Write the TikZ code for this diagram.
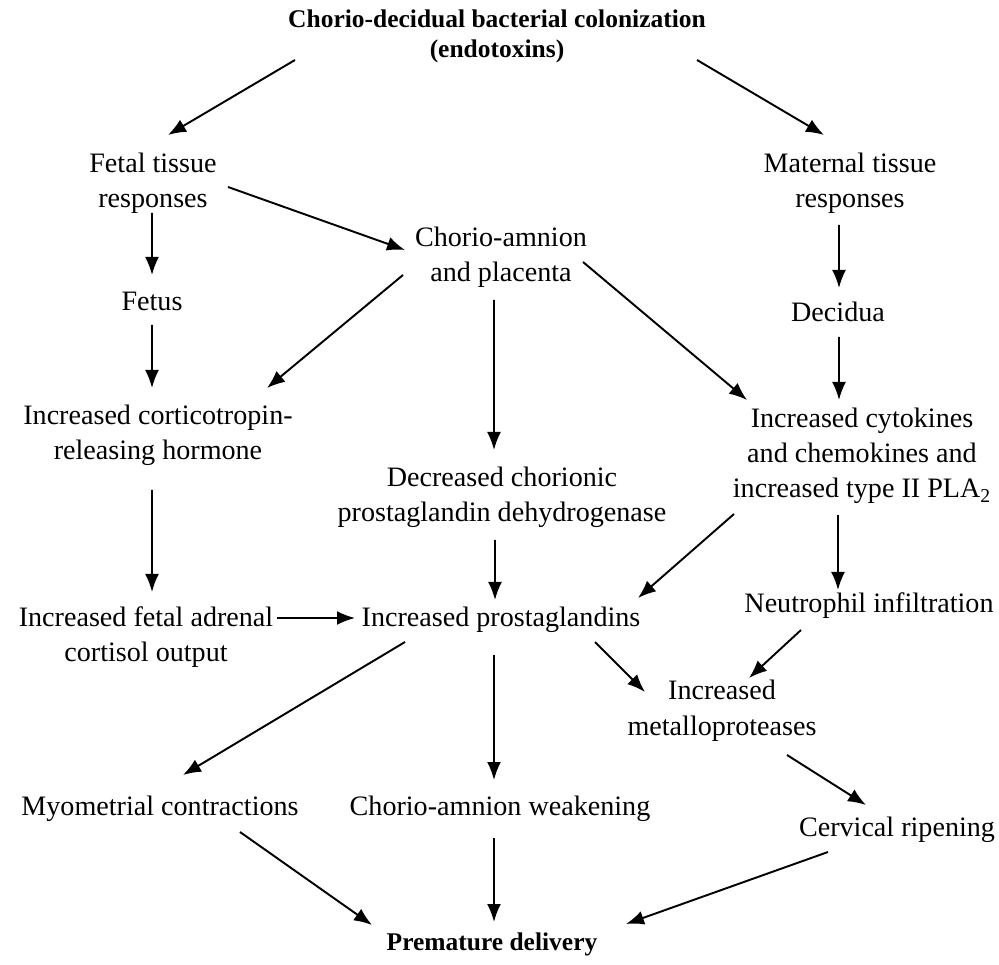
\documentclass[tikz,border=0pt]{standalone}
\usepackage{fontspec}
\setmainfont{Liberation Serif}
\usepackage{tikz}
\usetikzlibrary{arrows.meta}

\begin{document}
\begin{tikzpicture}[texte/.style={align=center,inner sep=0pt,anchor=base,font=\fontsize{16}{19.92}\selectfont},%
titre/.style={texte,font=\fontsize{14.5}{17.6}\selectfont\bfseries},%
fleche/.style={line width=1.1pt,-{Latex[length=3.6mm,width=2.8mm]}}]%
\useasboundingbox (0,0) rectangle (19.98,19.28);%%
%%NOEUDS (ancre = ligne de base de la derniere ligne)
\node[titre] (colon) at (9.94,18.12) {Chorio-decidual bacterial colonization\\(endotoxins)}; %%
\node[texte] (fetal) at (3.06,15.12) {Fetal tissue\\responses}; %%
\node[texte] (maternal) at (17.0,15.12) {Maternal tissue\\responses}; %%
\node[texte] (chorion) at (10.02,13.64) {Chorio-amnion\\and placenta}; %%
\node[texte] (fetus) at (3.04,13.06) {Fetus}; %%
\node[texte] (decidua) at (16.76,12.84) {Decidua}; %%
\node[texte] (crh) at (3.16,10.08) {Increased corticotropin-\\releasing hormone}; %%
\node[texte] (cyto) at (17.24,9.32) {Increased cytokines\\and chemokines and\\increased type II PLA\textsubscript{2}}; %%
\node[texte] (pgdh) at (10.04,8.84) {Decreased chorionic\\prostaglandin dehydrogenase}; %%
\node[texte] (cortisol) at (2.92,6.04) {Increased fetal adrenal\\cortisol output}; %%
\node[texte] (pg) at (10.02,6.74) {Increased prostaglandins}; %%
\node[texte] (neutro) at (17.38,7.02) {Neutrophil infiltration}; %%
\node[texte] (metallo) at (14.44,4.58) {Increased\\metalloproteases}; %%
\node[texte] (myo) at (3.2,2.98) {Myometrial contractions}; %%
\node[texte] (weak) at (10.0,2.98) {Chorio-amnion weakening}; %%
\node[texte] (cervix) at (17.94,2.56) {Cervical ripening}; %%
\node[titre] (delivery) at (9.84,0.28) {Premature delivery}; %%
%%FLECHES HAUT
\draw[fleche] ([shift={(-4.04,-0.04)}]colon.base) -- ([shift={(0.30,1.46)}]fetal.base); %%
\draw[fleche] ([shift={(4.0,-0.04)}]colon.base) -- ([shift={(-0.52,1.46)}]maternal.base); %%
\draw[fleche] ([shift={(1.5,0.42)}]fetal.base) -- ([shift={(-1.92,0.64)}]chorion.base); %%
\draw[fleche] ([shift={(-0.02,-0.1)}]fetal.base) -- ([shift={(0,0.72)}]fetus.base); %%
\draw[fleche] ([shift={(-0.22,-0.34)}]maternal.base) -- ([shift={(0.02,0.68)}]decidua.base); %%
%%FLECHES MILIEU
\draw[fleche] ([shift={(-1.96,0.14)}]chorion.base) -- ([shift={(2.18,1.44)}]crh.base); %%
\draw[fleche] ([shift={(-0.14,-0.36)}]chorion.base) -- ([shift={(-0.16,1.44)}]pgdh.base); %%
\draw[fleche] ([shift={(1.64,0.40)}]chorion.base) -- ([shift={(-2.30,1.96)}]cyto.base); %%
\draw[fleche] ([shift={(0,-0.28)}]fetus.base) -- ([shift={(-0.12,1.44)}]crh.base); %%
\draw[fleche] ([shift={(0.02,-0.30)}]decidua.base) -- ([shift={(-0.46,1.96)}]cyto.base); %%
\draw[fleche] ([shift={(-0.12,-0.60)}]crh.base) -- ([shift={(0.12,1.40)}]cortisol.base); %%
\draw[fleche] ([shift={(-0.14,-0.36)}]pgdh.base) -- ([shift={(-0.12,0.54)}]pg.base); %%
\draw[fleche] ([shift={(-2.56,-0.32)}]cyto.base) -- ([shift={(2.74,0.58)}]pg.base); %%
\draw[fleche] ([shift={(-0.48,-0.34)}]cyto.base) -- ([shift={(-0.62,0.46)}]neutro.base); %%
\draw[fleche] ([shift={(2.62,0.88)}]cortisol.base) -- ([shift={(-2.92,0.18)}]pg.base); %%
%%FLECHES BAS
\draw[fleche] ([shift={(-1.92,-0.30)}]pg.base) -- ([shift={(0.46,0.80)}]myo.base); %%
\draw[fleche] ([shift={(-0.14,-0.56)}]pg.base) -- ([shift={(-0.12,0.70)}]weak.base); %%
\draw[fleche] ([shift={(1.88,-0.30)}]pg.base) -- ([shift={(-1.54,0.86)}]metallo.base); %%
\draw[fleche] ([shift={(-1.36,-0.34)}]neutro.base) -- ([shift={(0.54,1.14)}]metallo.base); %%
\draw[fleche] ([shift={(1.30,-0.40)}]metallo.base) -- ([shift={(-0.62,0.62)}]cervix.base); %%
\draw[fleche] ([shift={(1.6,-0.34)}]myo.base) -- ([shift={(-2.40,0.50)}]delivery.base); %%
\draw[fleche] ([shift={(-0.12,-0.46)}]weak.base) -- ([shift={(0.04,0.56)}]delivery.base); %%
\draw[fleche] ([shift={(-1.38,-0.32)}]cervix.base) -- ([shift={(2.68,0.52)}]delivery.base); %%
\end{tikzpicture}
\end{document}
